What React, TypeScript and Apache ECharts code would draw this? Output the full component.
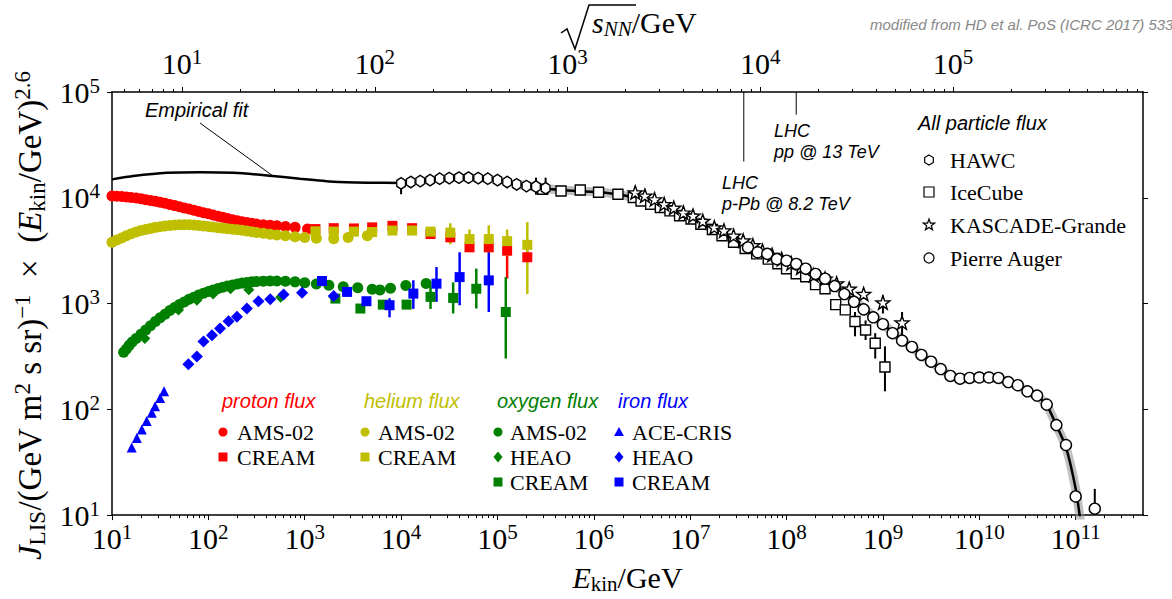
import React, { useEffect, useRef } from "react";
import * as echarts from "echarts";

const SERIF = '"Liberation Serif", "DejaVu Serif", serif';
const SANS = '"Liberation Sans", Arial, sans-serif';
const RED = "#ff0000";
const YEL = "#bfbf00";
const GRN = "#008000";
const BLU = "#0000ff";

// axis ranges (GeV and flux units)
const xMinE = 10;
const xMaxE = 5e11;
const yMinJ = 10;
const yMaxJ = 1e5;
const nucleonMass = 0.938;
const xMajorExp = [1, 2, 3, 4, 5, 6, 7, 8, 9, 10, 11];
const yMajorExp = [1, 2, 3, 4, 5];
const topMajorExp = [1, 2, 3, 4, 5];

// ---- proton ----
const protonAmsE = [10, 11.2, 12.6, 14.1, 15.8, 17.8, 20, 22.4, 25.1, 28.2, 31.6, 35.5, 39.8, 44.7, 50.1, 56.2, 63.1, 70.8, 79.4, 89.1, 100, 112, 126, 141, 158, 178, 200, 224, 251, 282, 316, 372, 437, 513, 631, 794, 1070];
const protonAmsJ = [10400, 10350, 10280, 10190, 10070, 9930, 9770, 9590, 9420, 9250, 9080, 8870, 8650, 8430, 8220, 8020, 7820, 7620, 7410, 7230, 7050, 6870, 6700, 6530, 6370, 6210, 6070, 5940, 5830, 5730, 5650, 5570, 5500, 5430, 5360, 5250, 5070];
const protonCreamE = [1290, 2000, 3240, 5010, 8130, 13000, 20200, 32400, 51300, 81300, 126000, 204000];
const protonCreamJ = [5060, 5160, 5130, 5250, 5430, 5160, 4540, 4230, 3400, 3400, 3160, 2740];
const protonCreamErrE = [32400, 51300, 81300, 126000, 204000];
const protonCreamErrLo = [3900, 3090, 3090, 1720, 2450];
const protonCreamErrHi = [4570, 3630, 3720, 4370, 3160];

// ---- helium ----
const heliumAmsE = [10, 11.2, 12.6, 14.1, 15.8, 17.8, 20, 22.4, 25.1, 28.2, 31.6, 35.5, 39.8, 44.7, 50.1, 56.2, 63.1, 70.8, 79.4, 89.1, 100, 112, 126, 141, 158, 178, 200, 224, 251, 282, 316, 372, 437, 513, 631, 794, 1000, 1320, 2000, 2820, 4470];
const heliumAmsJ = [3800, 3980, 4170, 4370, 4570, 4740, 4900, 5010, 5130, 5250, 5330, 5410, 5470, 5520, 5560, 5570, 5560, 5520, 5470, 5420, 5360, 5300, 5220, 5160, 5100, 5050, 4990, 4920, 4850, 4780, 4700, 4610, 4530, 4450, 4380, 4290, 4220, 4150, 4090, 4220, 4370];
const heliumCreamE = [1290, 2000, 3240, 5010, 8130, 13000, 20200, 32400, 51300, 81300, 126000, 204000];
const heliumCreamJ = [4820, 4790, 4790, 4750, 4900, 4900, 4790, 4680, 4070, 4070, 3890, 3590];
const heliumCreamErrE = [20200, 32400, 51300, 81300, 126000, 204000];
const heliumCreamErrLo = [4170, 3630, 3390, 3020, 2820, 1230];
const heliumCreamErrHi = [5250, 5750, 5010, 5500, 5010, 5890];

// ---- oxygen ----
const oxygenAmsE = [13.2, 14.1, 15.1, 16.2, 17.8, 20, 22.4, 25.1, 28.2, 31.6, 35.5, 39.8, 44.7, 50.1, 56.2, 63.1, 70.8, 79.4, 89.1, 100, 112, 126, 141, 158, 178, 200, 224, 251, 282, 316, 372, 437, 513, 631, 794, 1000, 1320, 1780, 2510, 3550, 5010, 6030, 7760, 11200, 18200];
const oxygenAmsJ = [347, 372, 403, 432, 468, 513, 562, 617, 676, 733, 794, 861, 916, 977, 1035, 1096, 1148, 1202, 1250, 1297, 1343, 1387, 1429, 1466, 1500, 1531, 1560, 1585, 1603, 1618, 1629, 1637, 1633, 1622, 1603, 1574, 1531, 1486, 1445, 1413, 1365, 1343, 1396, 1479, 1549];
const oxygenHeaoE = [21.9, 49, 76, 112, 170, 263, 562, 2000];
const oxygenHeaoJ = [468, 871, 1072, 1230, 1380, 1349, 1148, 1156];
const oxygenCreamE = [2080, 3780, 6460, 11400, 20200, 34700, 60300, 122000];
const oxygenCreamJ = [1114, 897, 977, 977, 1156, 1130, 1380, 832];
const oxygenCreamErrE = [20200, 34700, 60300, 122000];
const oxygenCreamErrLo = [890, 805, 897, 302];
const oxygenCreamErrHi = [1480, 1585, 2140, 1780];

// ---- iron ----
const ironAceE = [16, 18.1, 20.4, 22.9, 25.9, 28, 31.6, 34.7];
const ironAceJ = [43.5, 53.7, 64.6, 77.4, 92.7, 107, 128, 148];
const ironHeaoE = [62, 76, 89, 109, 132, 162, 198, 251, 331, 439, 603, 938, 2000];
const ironHeaoJ = [267, 316, 437, 501, 582, 682, 750, 897, 1052, 1096, 1216, 1268, 1180];
const ironCreamE = [1510, 2750, 4370, 7590, 13400, 23300, 40500, 81300];
const ironCreamJ = [1633, 1288, 1052, 964, 1242, 1542, 1778, 1656];
const ironCreamErrE = [7590, 13400, 23300, 40500, 81300];
const ironCreamErrLo = [741, 891, 1038, 964, 832];
const ironCreamErrHi = [1122, 1660, 2213, 3055, 3055];

// ---- all particle ----
const hawcE = [10000, 12600, 15800, 20000, 25100, 31600, 39800, 50100, 63100, 79400, 100000, 126000, 158000, 200000, 251000, 316000];
const hawcJ = [13680, 14090, 14390, 14690, 15140, 15350, 15490, 15490, 15350, 15140, 14690, 14090, 13400, 12910, 12740, 12300];
const hawcErrE = [10000, 251000, 316000];
const hawcErrLo = [10790, 10700, 10700];
const hawcErrHi = [14300, 15500, 15500];

const iceE = [295000, 457000, 724000, 1.12e6, 1.78e6, 2.57e6, 3.09e6, 3.89e6, 4.9e6, 6.17e6, 7.76e6, 1.02e7, 1.29e7, 1.7e7, 2.14e7, 2.82e7, 3.72e7, 4.9e7, 6.46e7, 8.13e7, 1.0e8, 1.26e8, 1.58e8, 2.0e8, 2.51e8, 3.24e8, 4.07e8, 5.13e8, 6.61e8, 8.32e8, 1.05e9];
const iceJ = [12020, 11590, 11860, 11270, 10790, 10050, 9330, 8690, 8090, 7520, 6760, 6310, 5620, 5010, 4370, 3800, 3310, 2950, 2630, 2380, 2130, 1910, 1790, 1510, 1380, 977, 871, 676, 562, 422, 251];
const iceErrE = [5.13e8, 6.61e8, 8.32e8, 1.05e9];
const iceErrLo = [490, 452, 302, 148];
const iceErrHi = [832, 692, 525, 394];

const kgE = [2.69e6, 3.39e6, 4.27e6, 5.37e6, 6.76e6, 8.51e6, 1.07e7, 1.35e7, 1.78e7, 2.24e7, 2.82e7, 3.55e7, 4.47e7, 5.62e7, 7.08e7, 8.91e7, 1.12e8, 1.41e8, 1.91e8, 2.51e8, 3.31e8, 4.47e8, 6.31e8, 1.0e9, 1.58e9];
const kgJ = [11220, 10470, 9660, 8710, 8040, 7240, 6760, 6030, 5250, 4900, 4370, 3940, 3550, 3160, 2880, 2630, 2400, 2190, 1860, 1720, 1550, 1380, 1230, 1023, 661];
const kgErrE = [1.0e9, 1.58e9];
const kgErrLo = [805, 486];
const kgErrHi = [1197, 832];

const augerE = [3.98e7, 5.01e7, 6.31e7, 7.94e7, 1.0e8, 1.26e8, 1.58e8, 2.0e8, 2.51e8, 3.16e8, 3.98e8, 5.01e8, 6.31e8, 7.94e8, 1.0e9, 1.26e9, 1.58e9, 2.0e9, 2.51e9, 3.16e9, 3.98e9, 5.01e9, 6.31e9, 7.94e9, 1.0e10, 1.26e10, 1.58e10, 2.0e10, 2.51e10, 3.16e10, 3.98e10, 5.01e10, 6.31e10, 7.94e10, 1.0e11, 1.58e11];
const augerJ = [3390, 3055, 2951, 2630, 2541, 2371, 2138, 1905, 1718, 1462, 1230, 1038, 881, 741, 638, 525, 447, 389, 327, 282, 240, 207, 195, 198, 200, 200, 198, 181, 169, 148, 135, 111, 71, 46, 15, 11.5];
const augerErrE = [1.58e11];
const augerErrLo = [8];
const augerErrHi = [17.7];

// empirical fit
const fitE = [10, 16.6, 37.2, 82.2, 182, 407, 891, 2000, 4470, 10000, 20000, 39800, 79400, 158000, 316000, 631000, 1.26e6, 2.51e6, 5.01e6, 1e7, 2e7, 3.98e7, 7.94e7, 1.58e8, 3.16e8, 6.31e8, 1.26e9, 2.51e9, 5.01e9, 7.08e9, 1e10, 1.58e10, 2.51e10, 3.98e10, 5.01e10, 6.31e10, 7.94e10, 1e11, 1.12e11];
const fitJ = [14930, 16030, 17220, 17460, 17220, 16260, 15140, 14190, 13900, 13800, 14620, 15310, 15140, 13490, 12160, 11610, 11220, 10120, 8320, 6460, 4680, 3390, 2630, 2090, 1480, 912, 537, 327, 209, 193, 197, 195, 166, 132, 110, 70.8, 43.7, 17.8, 8.9];
const bandStartE = 100000;

// LHC markers
const lhcE = [3.6e7, 1.26e8];
const lhcLineEndJ = [2.2e4, 6.1e4];

const L = (v: number) => Math.log10(v);
const pts = (E: number[], J: number[]) => E.map((e, i) => [L(e), L(J[i])]);
const bars = (E: number[], lo: number[], hi: number[]) => E.map((e, i) => [L(e), L(lo[i]), L(hi[i])]);

const HEX = "path://M8.66,0 L17.32,5 L17.32,15 L8.66,20 L0,15 L0,5 Z";
const STAR = "path://M10,0 L12.35,6.76 L19.51,6.91 L13.8,11.24 L15.88,18.09 L10,14 L4.12,18.09 L6.2,11.24 L0.49,6.91 L7.65,6.76 Z";

function errSeries(data: number[][], color: string, width: number, z = 3) {
  return {
    type: "custom",
    xAxisIndex: 0,
    yAxisIndex: 0,
    silent: true,
    clip: true,
    z,
    data,
    encode: { x: 0, y: [1, 2] },
    renderItem: (_p: any, api: any) => {
      const a = api.coord([api.value(0), api.value(1)]);
      const b = api.coord([api.value(0), api.value(2)]);
      return { type: "line", shape: { x1: a[0], y1: a[1], x2: b[0], y2: b[1] }, style: { stroke: color, lineWidth: width } };
    },
  };
}

let zc = 4;
function scat(data: number[][], symbol: string, size: any, fill: string, stroke?: string) {
  zc += 1;
  return {
    type: "scatter",
    xAxisIndex: 0,
    yAxisIndex: 0,
    z: zc,
    data,
    symbol,
    symbolSize: size,
    symbolKeepAspect: true,
    silent: true,
    itemStyle: stroke ? { color: fill, borderColor: stroke, borderWidth: 1.4, opacity: 1 } : { color: fill, opacity: 1 },
  };
}

// legend marker helpers (graphic)
function legendMarker(kind: string, cx: number, cy: number, s: number, fill: string, stroke?: string): any {
  const style: any = { fill, stroke: stroke || null, lineWidth: stroke ? 1.2 : 0 };
  if (kind === "circle") return { type: "circle", shape: { cx, cy, r: s / 2 }, style };
  if (kind === "rect") return { type: "rect", shape: { x: cx - s / 2, y: cy - s / 2, width: s, height: s }, style };
  if (kind === "triangle") return { type: "polygon", shape: { points: [[cx, cy - s * 0.55], [cx + s * 0.55, cy + s * 0.45], [cx - s * 0.55, cy + s * 0.45]] }, style };
  if (kind === "diamond") return { type: "polygon", shape: { points: [[cx, cy - s * 0.6], [cx + s * 0.5, cy], [cx, cy + s * 0.6], [cx - s * 0.5, cy]] }, style };
  if (kind === "hex") {
    const p: number[][] = [];
    for (let k = 0; k < 6; k++) {
      const a = (Math.PI / 3) * k - Math.PI / 2;
      p.push([cx + (s / 2) * Math.cos(a), cy + (s / 2) * Math.sin(a)]);
    }
    return { type: "polygon", shape: { points: p }, style };
  }
  // star
  const p: number[][] = [];
  for (let k = 0; k < 10; k++) {
    const r = k % 2 === 0 ? s * 0.6 : s * 0.24;
    const a = (Math.PI / 5) * k - Math.PI / 2;
    p.push([cx + r * Math.cos(a), cy + r * Math.sin(a)]);
  }
  return { type: "polygon", shape: { points: p }, style };
}

function txt(x: number, y: number, text: string, font: string, fill = "#000", extra: any = {}): any {
  return { type: "text", x, y, z: 50, style: { text, font, fill, verticalAlign: "middle", textVerticalAlign: "middle", ...extra } };
}

export default function App() {
  const ref = useRef<HTMLDivElement>(null);
  useEffect(() => {
    document.body.style.margin = "0";
    const chart = echarts.init(ref.current!, null, { renderer: "svg" });

    const xMin = L(xMinE);
    const xMax = L(xMaxE);
    const topMin = 0.5 * (L(2 * nucleonMass) + xMin);
    const topMax = 0.5 * (L(2 * nucleonMass) + xMax);
    const minorBottom: number[] = [];
    for (let n = 1; n <= 11; n++) for (let k = 2; k <= 9; k++) { const v = n + L(k); if (v < xMax) minorBottom.push(v); }
    const minorTop: number[] = [];
    for (let n = 0; n <= 5; n++) for (let k = 2; k <= 9; k++) { const v = n + L(k); if (v > topMin && v < topMax) minorTop.push(v); }

    const supRich = {
      sup: { fontSize: 21, fontFamily: SERIF, verticalAlign: "top", color: "#000" },
      sub: { fontSize: 21, fontFamily: SERIF, verticalAlign: "bottom", color: "#000" },
      it: { fontSize: 30, fontFamily: SERIF, fontStyle: "italic", color: "#000" },
      itsub: { fontSize: 21, fontFamily: SERIF, fontStyle: "italic", verticalAlign: "bottom", color: "#000" },
    };
    const yRich = {
      sup: { fontSize: 23, fontFamily: SERIF, verticalAlign: "top", color: "#000" },
      sub: { fontSize: 23, fontFamily: SERIF, verticalAlign: "bottom", color: "#000" },
      it: { fontSize: 33, fontFamily: SERIF, fontStyle: "italic", color: "#000" },
    };
    const tickLabel = {
      fontFamily: SERIF,
      fontSize: 30,
      lineHeight: 34,
      color: "#000",
      rich: supRich,
    };
    const fmt = (v: number) => "10{sup|" + Math.round(v) + "}";
    const axLine = { show: true, lineStyle: { color: "#000", width: 1.5 } };

    const xAxes: any[] = [
      {
        type: "value", position: "bottom", min: xMin, max: xMax, interval: 1,
        axisLine: axLine, splitLine: { show: false },
        axisTick: { show: true, length: 5, customValues: xMajorExp, lineStyle: { color: "#000", width: 1 } },
        axisLabel: { ...tickLabel, margin: 6, customValues: xMajorExp, formatter: fmt },
        name: "{it|E}{sub|kin}/GeV", nameLocation: "middle", nameGap: 40,
        nameTextStyle: { fontFamily: SERIF, fontSize: 30, lineHeight: 34, color: "#000", rich: supRich },
      },
      {
        type: "value", position: "bottom", min: xMin, max: xMax,
        axisLine: { show: false }, splitLine: { show: false }, axisLabel: { show: false },
        axisTick: { show: true, length: 3, customValues: minorBottom, lineStyle: { color: "#000", width: 1 } },
      },
      {
        type: "value", position: "top", min: topMin, max: topMax,
        axisLine: axLine, splitLine: { show: false },
        axisTick: { show: true, length: 5, customValues: topMajorExp, lineStyle: { color: "#000", width: 1 } },
        axisLabel: { ...tickLabel, margin: 12, customValues: topMajorExp, formatter: fmt },
      },
      {
        type: "value", position: "top", min: topMin, max: topMax,
        axisLine: { show: false }, splitLine: { show: false }, axisLabel: { show: false },
        axisTick: { show: true, length: 3, customValues: minorTop, lineStyle: { color: "#000", width: 1 } },
      },
    ];
    const yAxes: any[] = [
      {
        type: "value", position: "left", min: L(yMinJ), max: L(yMaxJ), interval: 1,
        axisLine: axLine, splitLine: { show: false },
        axisTick: { show: true, length: 5, customValues: yMajorExp, lineStyle: { color: "#000", width: 1 } },
        axisLabel: { ...tickLabel, margin: 12, customValues: yMajorExp, formatter: fmt },
        name: "{it|J}{sub|LIS}/(GeV m{sup|2} s sr){sup|−1}  ×  ({it|E}{sub|kin}/GeV){sup|2.6}",
        nameLocation: "middle", nameRotate: 90, nameGap: 58,
        nameTextStyle: { fontFamily: SERIF, fontSize: 33, lineHeight: 38, color: "#000", rich: yRich, padding: [0, 24, 0, 0] },
      },
      {
        type: "value", position: "right", min: L(yMinJ), max: L(yMaxJ), interval: 1,
        axisLine: axLine, splitLine: { show: false }, axisLabel: { show: false },
        axisTick: { show: true, length: 5, customValues: yMajorExp, lineStyle: { color: "#000", width: 1 } },
      },
    ];

    const fitPts = pts(fitE, fitJ);
    const bandPts = fitPts.filter((_, i) => fitE[i] >= bandStartE);

    const series: any[] = [
      { type: "line", xAxisIndex: 0, yAxisIndex: 0, z: 1, data: bandPts, showSymbol: false, smooth: 0.2, silent: true,
        lineStyle: { color: "rgba(140,140,140,0.55)", width: 9 } },
      { type: "line", xAxisIndex: 0, yAxisIndex: 0, z: 2, data: fitPts, showSymbol: false, smooth: 0.2, silent: true,
        lineStyle: { color: "#000", width: 2.5 } },
      errSeries(lhcE.map((e, i) => [L(e), L(lhcLineEndJ[i]), L(yMaxJ)]), "#000", 1, 2),
      // proton
      scat(pts(protonAmsE, protonAmsJ), "circle", 11, RED),
      errSeries(bars(protonCreamErrE, protonCreamErrLo, protonCreamErrHi), RED, 2.5),
      scat(pts(protonCreamE, protonCreamJ), "rect", 10, RED),
      // helium
      scat(pts(heliumAmsE, heliumAmsJ), "circle", 11, YEL),
      errSeries(bars(heliumCreamErrE, heliumCreamErrLo, heliumCreamErrHi), YEL, 2.5),
      scat(pts(heliumCreamE, heliumCreamJ), "rect", 10, YEL),
      // oxygen
      scat(pts(oxygenAmsE, oxygenAmsJ), "circle", 11, GRN),
      scat(pts(oxygenHeaoE, oxygenHeaoJ), "diamond", 11, GRN),
      errSeries(bars(oxygenCreamErrE, oxygenCreamErrLo, oxygenCreamErrHi), GRN, 2.5),
      scat(pts(oxygenCreamE, oxygenCreamJ), "rect", 10, GRN),
      // iron
      scat(pts(ironAceE, ironAceJ), "triangle", 10, BLU),
      scat(pts(ironHeaoE, ironHeaoJ), "diamond", 12, BLU),
      errSeries(bars(ironCreamErrE, ironCreamErrLo, ironCreamErrHi), BLU, 2.5),
      scat(pts(ironCreamE, ironCreamJ), "rect", 10, BLU),
      // all particle
      errSeries(bars(iceErrE, iceErrLo, iceErrHi), "#000", 2),
      scat(pts(iceE, iceJ), "rect", 10, "#fff", "#000"),
      errSeries(bars(kgErrE, kgErrLo, kgErrHi), "#000", 2),
      scat(pts(kgE, kgJ), STAR, 14, "#fff", "#000"),
      errSeries(bars(hawcErrE, hawcErrLo, hawcErrHi), "#000", 2),
      scat(pts(hawcE, hawcJ), HEX, [10, 11.5], "#fff", "#000"),
      errSeries(bars(augerErrE, augerErrLo, augerErrHi), "#000", 2),
      scat(pts(augerE, augerJ), "circle", 11, "#fff", "#000"),
    ];

    const italic = (px: number) => `italic ${px}px ${SANS}`;
    const serif22 = `22px ${SERIF}`;
    const G: any[] = [];
    // top title with radical sign
    G.push({ type: "polyline", z: 50, shape: { points: [[561, 33], [567, 29], [575, 49], [589, 5], [636, 5]] }, style: { stroke: "#000", lineWidth: 1.5, fill: null } });
    G.push(txt(592, 22, "{it|s}{itsub|NN}/GeV", `30px ${SERIF}`, "#000", { lineHeight: 34, rich: supRich }));
    G.push(txt(870, 24, "modified from HD et al. PoS (ICRC 2017) 533", italic(15), "#888"));
    // annotations
    G.push(txt(145, 110, "Empirical fit", italic(20)));
    G.push({ type: "line", z: 50, shape: { x1: 200, y1: 123, x2: 273, y2: 176 }, style: { stroke: "#000", lineWidth: 1 } });
    G.push(txt(774, 131, "LHC", italic(18)));
    G.push(txt(774, 152, "pp @ 13 TeV", italic(18)));
    G.push(txt(722, 183, "LHC", italic(18)));
    G.push(txt(722, 204, "p-Pb @ 8.2 TeV", italic(18)));
    // all-particle legend
    G.push(txt(918, 123, "All particle flux", italic(20)));
    const apRows = [
      ["hex", "HAWC", 160],
      ["rect", "IceCube", 192],
      ["star", "KASCADE-Grande", 225],
      ["circle", "Pierre Auger", 258],
    ];
    apRows.forEach(([k, t, y]) => {
      G.push({ ...legendMarker(k as string, 929, y as number, 10, "#fff", "#000"), z: 50 });
      G.push(txt(950, y as number, t as string, serif22));
    });
    // element legends
    const groups: any[] = [
      { title: "proton flux", color: RED, mx: 223, tx: 237, items: [["circle", "AMS-02"], ["rect", "CREAM"]] },
      { title: "helium flux", color: YEL, mx: 365, tx: 378, items: [["circle", "AMS-02"], ["rect", "CREAM"]] },
      { title: "oxygen flux", color: GRN, mx: 498, tx: 510, items: [["circle", "AMS-02"], ["diamond", "HEAO"], ["rect", "CREAM"]] },
      { title: "iron flux", color: BLU, mx: 619, tx: 632, items: [["triangle", "ACE-CRIS"], ["diamond", "HEAO"], ["rect", "CREAM"]] },
    ];
    groups.forEach((g) => {
      G.push(txt(g.mx - 1, 401, g.title, italic(20), g.color));
      g.items.forEach((it: string[], i: number) => {
        const y = 432 + i * 25;
        G.push({ ...legendMarker(it[0], g.mx, y, 9, g.color), z: 50 });
        G.push(txt(g.tx, y, it[1], serif22));
      });
    });

    chart.setOption({
      animation: false,
      backgroundColor: "#fff",
      grid: { left: 112, right: 29, top: 92, bottom: 81, containLabel: false },
      xAxis: xAxes,
      yAxis: yAxes,
      series,
      graphic: G,
    });
    return () => chart.dispose();
  }, []);
  return <div ref={ref} style={{ position: "absolute", left: 0, top: 0, width: 1172, height: 599, background: "#fff" }} />;
}
